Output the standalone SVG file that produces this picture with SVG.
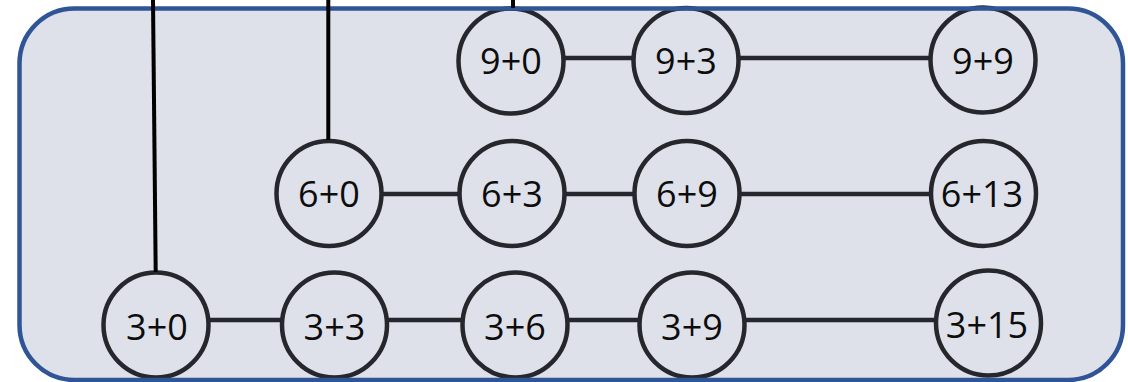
<svg xmlns="http://www.w3.org/2000/svg" width="1128" height="382" viewBox="0 0 1128 382">
  <style>
    .node circle { fill: #DEE1EA; stroke: #25272C; stroke-width: 4.5; }
    .node text { font-family: "Open Sans", "Liberation Sans", sans-serif; font-size: 36px; fill: #0D0D0D; text-anchor: middle; }
    .edge { stroke: #25272C; stroke-width: 4.5; fill: none; }
    .feed { stroke: #000000; stroke-width: 4; fill: none; }
  </style>
  <rect id="container-fill" x="19.5" y="8.5" width="1103.5" height="371.5" rx="55" ry="55" fill="#DEE1EA"/>
  <g id="connectors">
    <line class="edge" x1="511" y1="58" x2="686" y2="58"/>
    <line class="edge" x1="686" y1="58" x2="983" y2="58"/>
    <line class="edge" x1="329" y1="194" x2="512" y2="194"/>
    <line class="edge" x1="512" y1="194" x2="687" y2="194"/>
    <line class="edge" x1="687" y1="194" x2="983.5" y2="194"/>
    <line class="edge" x1="156" y1="320" x2="334.5" y2="320"/>
    <line class="edge" x1="334.5" y1="320" x2="515" y2="320"/>
    <line class="edge" x1="515" y1="320" x2="692" y2="320"/>
    <line class="edge" x1="692" y1="320" x2="988.5" y2="320"/>
  </g>
  <g id="n-9-0" class="node"><circle cx="511" cy="61" r="52.5"/><text x="511" y="74">9+0</text></g>
  <g id="n-9-3" class="node"><circle cx="686" cy="60.5" r="52.5"/><text x="686" y="74">9+3</text></g>
  <g id="n-9-9" class="node"><circle cx="983" cy="60" r="52.5"/><text x="983" y="74">9+9</text></g>
  <g id="n-6-0" class="node"><circle cx="329" cy="193.5" r="52.5"/><text x="329" y="207">6+0</text></g>
  <g id="n-6-3" class="node"><circle cx="512" cy="193.5" r="52.5"/><text x="512" y="207">6+3</text></g>
  <g id="n-6-9" class="node"><circle cx="687" cy="193.5" r="52.5"/><text x="687" y="207">6+9</text></g>
  <g id="n-6-13" class="node"><circle cx="983.5" cy="193.5" r="52.5"/><text x="982" y="207">6+13</text></g>
  <g id="n-3-0" class="node"><circle cx="156" cy="325" r="52.5"/><text x="157" y="340">3+0</text></g>
  <g id="n-3-3" class="node"><circle cx="334.5" cy="325" r="52.5"/><text x="334.5" y="340">3+3</text></g>
  <g id="n-3-6" class="node"><circle cx="515" cy="325" r="52.5"/><text x="515" y="340">3+6</text></g>
  <g id="n-3-9" class="node"><circle cx="692" cy="325" r="52.5"/><text x="692" y="340">3+9</text></g>
  <g id="n-3-15" class="node"><circle cx="988.5" cy="323" r="52.5"/><text x="987" y="338">3+15</text></g>
  <rect id="container-border" x="19.5" y="8.5" width="1103.5" height="371.5" rx="55" ry="55" fill="none" stroke="#2F5597" stroke-width="4.5"/>
  <g id="feeds">
    <line class="feed" x1="153" y1="0" x2="155.7" y2="272"/>
    <line class="feed" x1="328.3" y1="0" x2="328.3" y2="140"/>
    <line class="feed" x1="513" y1="0" x2="513" y2="8"/>
  </g>
</svg>
